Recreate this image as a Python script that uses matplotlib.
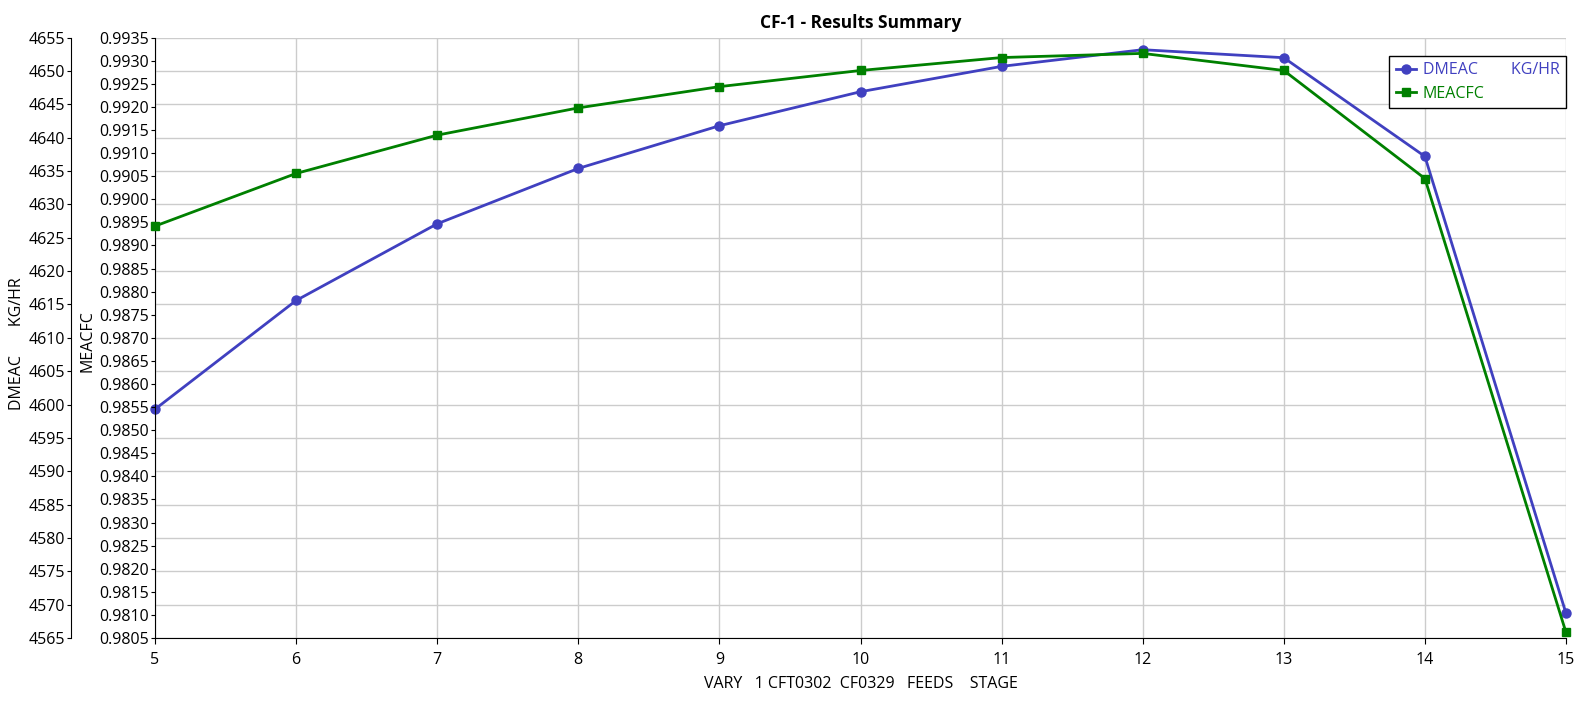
import matplotlib
matplotlib.use("Agg")
import matplotlib.pyplot as plt
from matplotlib.ticker import MultipleLocator, FormatStrFormatter

plt.rcParams['font.family'] = ['Open Sans', 'DejaVu Sans']

# dados
estagios = [5, 6, 7, 8, 9, 10, 11, 12, 13, 14, 15]
dmeac = [4599.3, 4615.6, 4627.1, 4635.4, 4641.8, 4646.9, 4650.7, 4653.2, 4652.0, 4637.2, 4568.7]
meacfc = [0.98942, 0.99056, 0.99139, 0.99198, 0.99244, 0.99279, 0.99307, 0.99316, 0.99279, 0.99045, 0.98062]

azul = '#4040C0'
verde = '#008000'
fs = 11.5

fig = plt.figure(figsize=(15.8, 7.03), dpi=100)
ax1 = fig.add_axes([155/1580, 1 - 638/703, (1566-155)/1580, (638-37.7)/703])
ax2 = ax1.twinx()

# eixo externo DMEAC
l1, = ax1.plot(estagios, dmeac, color=azul, lw=2.0, marker='o', ms=6.5,
               clip_on=False, zorder=3)
ax1.set_ylim(4565, 4655)
ax1.set_xlim(5, 15)
ax1.yaxis.set_major_locator(MultipleLocator(5))
ax1.xaxis.set_major_locator(MultipleLocator(1))
ax1.grid(True, color='#cccccc', lw=1.0)
ax1.spines['left'].set_position(('outward', 60.5))
ax1.spines['top'].set_visible(False)
ax1.spines['right'].set_visible(False)
ax1.set_ylabel('DMEAC       KG/HR', fontsize=fs)
ax1.yaxis.set_label_coords(-0.092, 0.49)
ax1.tick_params(axis='y', labelsize=fs, length=3, direction='out', pad=1)
ax1.tick_params(axis='x', labelsize=fs, length=4, direction='out', pad=6)
ax1.set_xlabel('VARY   1 CFT0302  CF0329   FEEDS    STAGE', fontsize=fs, labelpad=6)

# eixo interno MEACFC
l2, = ax2.plot(estagios, meacfc, color=verde, lw=2.0, marker='s', ms=6,
               clip_on=False, zorder=3)
ax2.set_ylim(0.9805, 0.9935)
ax2.yaxis.set_major_locator(MultipleLocator(0.0005))
ax2.yaxis.set_major_formatter(FormatStrFormatter('%.4f'))
ax2.yaxis.set_ticks_position('left')
ax2.yaxis.set_label_position('left')
ax2.spines['left'].set_visible(True)
ax2.spines['left'].set_position(('outward', 0))
ax2.spines['right'].set_visible(False)
ax2.spines['top'].set_visible(False)
ax2.spines['bottom'].set_visible(False)
ax2.set_ylabel('MEACFC', fontsize=fs)
ax2.yaxis.set_label_coords(-0.042, 0.495)
ax2.tick_params(axis='y', labelsize=fs, length=3, direction='out', pad=1.5)

ax1.set_title('CF-1 - Results Summary', fontsize=12.5, fontweight='bold', pad=7)

leg = ax2.legend([l1, l2], ['DMEAC        KG/HR', 'MEACFC'], loc='upper right',
                 bbox_to_anchor=(1.0, 1 - 18/600), borderaxespad=0, fancybox=False,
                 edgecolor='black', framealpha=1, fontsize=fs, handlelength=1.3,
                 borderpad=0.4, labelspacing=0.5, handletextpad=0.4)
leg.get_frame().set_linewidth(1.0)
leg.get_texts()[0].set_color(azul)
leg.get_texts()[1].set_color(verde)

fig.savefig('out.png', dpi=100)
